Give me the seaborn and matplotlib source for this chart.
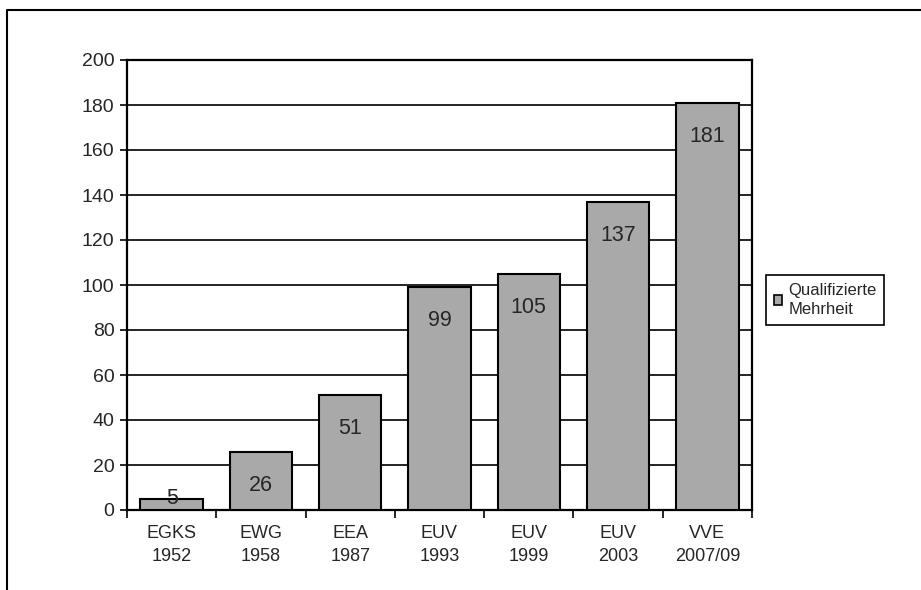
import pandas as pd
import matplotlib.pyplot as plt
import seaborn as sns
from matplotlib.lines import Line2D
from matplotlib.patches import Patch

# Chart values
vertraege = ['EGKS', 'EWG', 'EEA', 'EUV', 'EUV', 'EUV', 'VVE']
jahre = ['1952', '1958', '1987', '1993', '1999', '2003', '2007/09']
mehrheit = [5, 26, 51, 99, 105, 137, 181]
y_ticks = [0, 20, 40, 60, 80, 100, 120, 140, 160, 180, 200]
serie = 'Qualifizierte\nMehrheit'

labels = [f'{v}\n{j}' for v, j in zip(vertraege, jahre)]
data = pd.DataFrame({'label': labels, 'wert': mehrheit})

sns.set_style('white')
plt.rcParams['font.family'] = ['Liberation Sans', 'DejaVu Sans']

fig = plt.figure(figsize=(9.21, 5.90), dpi=100)
ax = fig.add_axes([127 / 921, 1 - 510 / 590, 625 / 921, 450 / 590])

bar_color = '#a9a9a9'
sns.barplot(data=data, x='label', y='wert', color=bar_color, width=0.7,
            edgecolor='black', linewidth=1.5, saturation=1, ax=ax, zorder=3)

ax.set_ylim(0, 200)
ax.set_xlim(-0.5, len(labels) - 0.5)
ax.set_yticks(y_ticks)
ax.set_xlabel('')
ax.set_ylabel('')
ax.yaxis.grid(True, color='black', linewidth=1.2, zorder=0)
ax.set_axisbelow(True)
for sp in ax.spines.values():
    sp.set_visible(True)
    sp.set_color('black')
    sp.set_linewidth(1.6)

ax.tick_params(axis='y', which='major', direction='out', length=5, width=1.4,
               labelsize=14, pad=4, left=True)
ax.tick_params(axis='x', which='major', length=0, labelsize=13, pad=11)
ax.set_xticks([i - 0.5 for i in range(len(labels) + 1)], minor=True)
ax.tick_params(axis='x', which='minor', direction='out', length=6, width=1.4,
               bottom=True)
for t in ax.get_xticklabels():
    t.set_linespacing(1.45)

# value labels inside bars
for i, v in enumerate(mehrheit):
    y = v - 15 if v > 20 else v
    ax.text(i, y, str(v), ha='center', va='center', fontsize=15.5, zorder=5)

# legend
leg = fig.legend(handles=[Patch(facecolor=bar_color, edgecolor='black', linewidth=1.2)],
                 labels=[serie], loc='center left',
                 bbox_to_anchor=(766 / 921, 1 - 300 / 590), borderaxespad=0,
                 fontsize=12, frameon=True, fancybox=False, edgecolor='black',
                 framealpha=1, handlelength=0.5, handleheight=0.5, handletextpad=0.4,
                 borderpad=0.45)
leg.get_frame().set_linewidth(1.2)
for t in leg.get_texts():
    t.set_linespacing(1.4)

# outer chart frame (partly cut off)
fig.add_artist(Line2D([7 / 921, 7 / 921, 1], [0, 1 - 10 / 590, 1 - 10 / 590],
                      transform=fig.transFigure, color='black', linewidth=1.5))

fig.savefig('out.png', dpi=100)
